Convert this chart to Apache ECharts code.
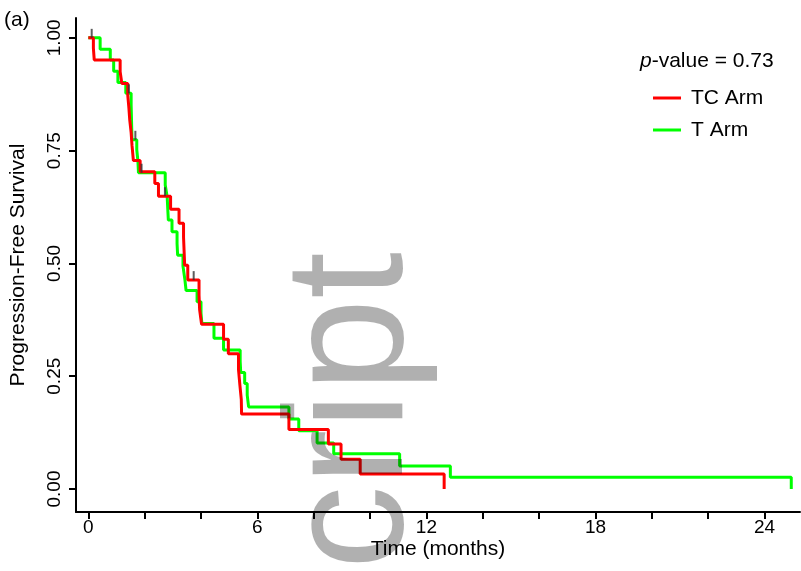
<!DOCTYPE html>
<html>
<head>
<meta charset="utf-8">
<script src="https://cdn.jsdelivr.net/npm/echarts@6.0.0/dist/echarts.min.js"></script>
<style>
  html, body { margin: 0; padding: 0; background: #fff; }
  #chart { width: 801px; height: 571px; }
</style>
</head>
<body>
<div id="chart"></div>
<script>
// TC arm (red): event times and survival after each step
const tcTimes = [0, 0.18, 0.21, 1.13, 1.19, 1.40, 1.44, 1.47, 1.52, 1.55, 1.60, 1.84, 2.36, 2.49, 2.92, 3.22, 3.38, 3.40, 3.42, 3.53, 3.93, 3.95, 4.02, 4.80, 4.97, 5.33, 5.38, 5.43, 5.44, 7.12, 8.52, 8.97, 9.65, 12.63];
const tcSurv  = [1, 0.977, 0.951, 0.925, 0.899, 0.873, 0.845, 0.818, 0.790, 0.762, 0.728, 0.703, 0.677, 0.649, 0.620, 0.589, 0.558, 0.527, 0.496, 0.463, 0.430, 0.398, 0.365, 0.332, 0.300, 0.265, 0.230, 0.198, 0.166, 0.132, 0.100, 0.066, 0.033, 0];

// T arm (green)
const tTimes = [0, 0.42, 0.78, 0.90, 1.05, 1.33, 1.52, 1.53, 1.54, 1.55, 1.72, 1.76, 1.78, 2.73, 2.80, 2.82, 2.84, 2.97, 3.15, 3.17, 3.36, 3.43, 3.47, 3.86, 4.00, 4.03, 4.46, 4.80, 5.39, 5.41, 5.55, 5.64, 5.69, 7.12, 7.47, 8.12, 8.71, 11.05, 12.85, 24.95];
const tSurv  = [1, 0.975, 0.951, 0.926, 0.901, 0.877, 0.851, 0.826, 0.800, 0.774, 0.752, 0.727, 0.701, 0.674, 0.647, 0.621, 0.596, 0.570, 0.544, 0.518, 0.494, 0.463, 0.440, 0.415, 0.390, 0.367, 0.334, 0.308, 0.283, 0.258, 0.234, 0.208, 0.182, 0.155, 0.129, 0.102, 0.078, 0.051, 0.026, 0];

// censor marks
const censorTimes = [0.12, 1.44, 1.67, 1.89, 2.72, 3.74];
const censorSurv  = [1.0, 0.877, 0.774, 0.701, 0.649, 0.463];

const xTicks = [0, 2, 4, 6, 8, 10, 12, 14, 16, 18, 20, 22, 24];
const xLabels = [0, 6, 12, 18, 24];
const yTicks = [0, 0.25, 0.5, 0.75, 1];

const font = 'Liberation Sans, Arial, sans-serif';

function pairs(xs, ys) {
  return xs.map((x, i) => [x, ys[i]]);
}

const chart = echarts.init(document.getElementById('chart'));
chart.setOption({
  animation: false,
  backgroundColor: '#fff',
  textStyle: { fontFamily: font },
  grid: { left: 76, top: 18, right: 1, bottom: 59, containLabel: false, outerBoundsMode: 'none' },
  legend: {
    orient: 'vertical',
    left: 648,
    top: 82,
    itemWidth: 28,
    itemHeight: 3,
    itemGap: 10,
    icon: 'rect',
    textStyle: { fontSize: 21, color: '#000', fontFamily: font, padding: [0, 0, 0, 5], lineHeight: 22 },
    data: ['TC Arm', 'T Arm']
  },
  xAxis: {
    type: 'value',
    min: -0.437,
    max: 25.26,
    name: 'Time (months)',
    nameLocation: 'middle',
    nameGap: 27,
    nameMoveOverlap: false,
    nameTextStyle: { fontSize: 21, color: '#000', fontFamily: font },
    axisLine: { onZero: false, lineStyle: { color: '#000', width: 2 } },
    axisTick: { show: true, length: 7, lineStyle: { color: '#000', width: 2 }, customValues: xTicks },
    axisLabel: { fontSize: 19, color: '#000', margin: 6, customValues: xLabels },
    splitLine: { show: false }
  },
  yAxis: {
    type: 'value',
    min: -0.051,
    max: 1.044,
    name: 'Progression-Free Survival',
    nameLocation: 'middle',
    nameGap: 47,
    nameMoveOverlap: false,
    nameTextStyle: { fontSize: 21, color: '#000', fontFamily: font },
    axisLine: { onZero: false, lineStyle: { color: '#000', width: 2 } },
    axisTick: { show: true, length: 7, lineStyle: { color: '#000', width: 2 }, customValues: yTicks },
    axisLabel: {
      fontSize: 19, color: '#000', rotate: 90, margin: 12, customValues: yTicks,
      formatter: v => v.toFixed(2)
    },
    splitLine: { show: false }
  },
  series: [
    {
      name: 'T Arm',
      type: 'line',
      step: 'end',
      symbol: 'none',
      color: '#00ff00',
      lineStyle: { color: '#00ff00', width: 3 },
      data: pairs(tTimes, tSurv),
      z: 2
    },
    {
      name: 'TC Arm',
      type: 'line',
      step: 'end',
      symbol: 'none',
      color: '#ff0000',
      lineStyle: { color: '#ff0000', width: 3 },
      data: pairs(tcTimes, tcSurv),
      z: 3
    },
    {
      name: 'censor',
      type: 'scatter',
      symbol: 'rect',
      symbolSize: [2, 9],
      symbolOffset: [0, -4.5],
      itemStyle: { color: '#333' },
      data: pairs(censorTimes, censorSurv),
      z: 4
    }
  ],
  graphic: [
    {
      type: 'text', left: 4, top: 10,
      style: { text: '(a)', fontSize: 21, fill: '#000', fontFamily: font }
    },
    {
      type: 'text', left: 640, top: 51,
      style: {
        text: '{it|p}-value = 0.73',
        fontSize: 21, fill: '#000', fontFamily: font,
        rich: { it: { fontStyle: 'italic', fontSize: 21, fontFamily: font } }
      }
    },
    {
      type: 'text', x: 440, y: 252, rotation: Math.PI / 2, z: 100,
      style: {
        text: 'Manuscript', fontSize: 168, fontFamily: font,
        fill: 'rgba(0,0,0,0.31)', align: 'right', verticalAlign: 'bottom'
      }
    }
  ]
});
</script>
</body>
</html>
